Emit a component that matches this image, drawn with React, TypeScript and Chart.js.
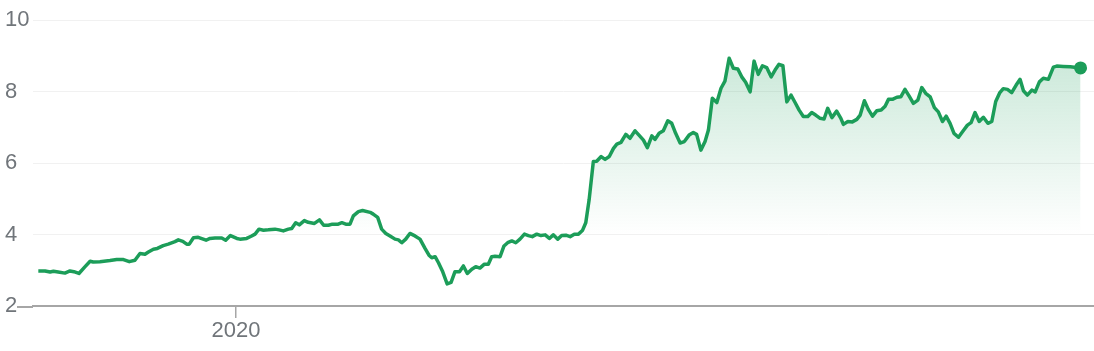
import React, { useEffect, useRef } from "react";
import { Chart, registerables } from "chart.js";

Chart.register(...registerables);

// fractional years (date of each observation)
const dates: number[] = [
  2019.294, 2019.318, 2019.336, 2019.348, 2019.365, 2019.389, 2019.407, 2019.421, 2019.439, 2019.461,
  2019.479, 2019.49, 2019.514, 2019.55, 2019.574, 2019.598, 2019.619, 2019.639, 2019.657, 2019.675,
  2019.687, 2019.705, 2019.719, 2019.74, 2019.758, 2019.782, 2019.794, 2019.81, 2019.824, 2019.833,
  2019.848, 2019.865, 2019.893, 2019.907, 2019.925, 2019.949, 2019.963, 2019.98, 2020.003, 2020.014,
  2020.038, 2020.054, 2020.068, 2020.082, 2020.098, 2020.115, 2020.139, 2020.154, 2020.169, 2020.187,
  2020.199, 2020.213, 2020.226, 2020.244, 2020.258, 2020.28, 2020.298, 2020.313, 2020.33, 2020.344,
  2020.365, 2020.378, 2020.392, 2020.407, 2020.419, 2020.437, 2020.452, 2020.479, 2020.49, 2020.506,
  2020.52, 2020.535, 2020.55, 2020.568, 2020.58, 2020.592, 2020.606, 2020.621, 2020.639, 2020.657,
  2020.675, 2020.689, 2020.699, 2020.711, 2020.723, 2020.737, 2020.754, 2020.768, 2020.782, 2020.798,
  2020.812, 2020.826, 2020.842, 2020.856, 2020.871, 2020.887, 2020.901, 2020.913, 2020.925, 2020.943,
  2020.957, 2020.97, 2020.985, 2020.999, 2021.014, 2021.03, 2021.044, 2021.058, 2021.074, 2021.089,
  2021.104, 2021.119, 2021.133, 2021.149, 2021.163, 2021.178, 2021.193, 2021.208, 2021.223, 2021.237,
  2021.249, 2021.261, 2021.276, 2021.288, 2021.304, 2021.318, 2021.333, 2021.348, 2021.36, 2021.375,
  2021.392, 2021.407, 2021.425, 2021.439, 2021.455, 2021.469, 2021.485, 2021.496, 2021.511, 2021.526,
  2021.542, 2021.556, 2021.57, 2021.586, 2021.601, 2021.618, 2021.633, 2021.645, 2021.66, 2021.675,
  2021.687, 2021.701, 2021.717, 2021.732, 2021.746, 2021.761, 2021.776, 2021.792, 2021.806, 2021.82,
  2021.836, 2021.85, 2021.865, 2021.88, 2021.895, 2021.911, 2021.925, 2021.939, 2021.953, 2021.967,
  2021.982, 2021.996, 2022.011, 2022.026, 2022.042, 2022.056, 2022.07, 2022.086, 2022.1, 2022.113,
  2022.128, 2022.145, 2022.16, 2022.169, 2022.185, 2022.201, 2022.217, 2022.229, 2022.244, 2022.258,
  2022.273, 2022.288, 2022.304, 2022.318, 2022.33, 2022.344, 2022.36, 2022.374, 2022.389, 2022.404,
  2022.419, 2022.435, 2022.449, 2022.463, 2022.479, 2022.494, 2022.508, 2022.523, 2022.536, 2022.55,
  2022.564, 2022.58, 2022.595, 2022.612, 2022.625, 2022.639, 2022.654, 2022.669, 2022.685, 2022.699,
  2022.713, 2022.727, 2022.74, 2022.755, 2022.77, 2022.786, 2022.8, 2022.812, 2022.826, 2022.842,
  2022.854, 2022.869, 2022.883, 2022.901, 2022.919, 2022.931, 2022.954, 2022.979, 2023.016,
];

const prices: number[] = [
  2.98, 2.98, 2.95, 2.97, 2.95, 2.92, 2.98, 2.96, 2.91, 3.1,
  3.25, 3.23, 3.24, 3.27, 3.3, 3.3, 3.24, 3.28, 3.47, 3.45,
  3.51, 3.59, 3.61, 3.69, 3.73, 3.8, 3.85, 3.81, 3.73, 3.73,
  3.91, 3.92, 3.84, 3.89, 3.9, 3.9, 3.84, 3.97, 3.89, 3.87,
  3.89, 3.95, 4.01, 4.15, 4.12, 4.13, 4.15, 4.13, 4.1, 4.15,
  4.17, 4.33, 4.27, 4.39, 4.34, 4.31, 4.41, 4.26, 4.26, 4.29,
  4.29, 4.33, 4.29, 4.29, 4.52, 4.64, 4.67, 4.62, 4.57, 4.48,
  4.15, 4.03, 3.96, 3.87, 3.85, 3.77, 3.87, 4.03, 3.96, 3.87,
  3.61, 3.42, 3.35, 3.38, 3.21, 2.98, 2.62, 2.66, 2.96, 2.96,
  3.12, 2.91, 3.03, 3.1, 3.06, 3.17, 3.17, 3.38, 3.39, 3.38,
  3.68, 3.77, 3.82, 3.77, 3.87, 4.01, 3.97, 3.94, 4.01, 3.97,
  3.99, 3.89, 3.99, 3.87, 3.97, 3.98, 3.94, 4.01, 4.01, 4.11,
  4.33, 4.97, 6.04, 6.05, 6.18, 6.1, 6.18, 6.41, 6.53, 6.58,
  6.8, 6.69, 6.9, 6.78, 6.64, 6.43, 6.76, 6.66, 6.83, 6.9,
  7.18, 7.11, 6.83, 6.56, 6.6, 6.78, 6.85, 6.8, 6.36, 6.6,
  6.92, 7.81, 7.69, 8.09, 8.29, 8.93, 8.65, 8.63, 8.41, 8.26,
  7.99, 8.85, 8.48, 8.72, 8.67, 8.41, 8.6, 8.76, 8.72, 7.71,
  7.9, 7.7, 7.48, 7.3, 7.3, 7.41, 7.34, 7.25, 7.23, 7.53,
  7.27, 7.45, 7.25, 7.08, 7.16, 7.15, 7.22, 7.34, 7.74, 7.5,
  7.31, 7.46, 7.48, 7.59, 7.78, 7.78, 7.84, 7.85, 8.06, 7.87,
  7.67, 7.76, 8.11, 7.95, 7.85, 7.55, 7.43, 7.16, 7.31, 7.11,
  6.83, 6.72, 6.88, 7.06, 7.13, 7.41, 7.16, 7.28, 7.11, 7.16,
  7.72, 7.96, 8.08, 8.06, 7.97, 8.18, 8.34, 8.02, 7.9, 8.04,
  7.99, 8.27, 8.37, 8.34, 8.68, 8.71, 8.7, 8.69, 8.66,
];

const yTicks: number[] = [2, 4, 6, 8, 10];
const xTickYears: number[] = [2020];
const xMin = 2019.275;
const xMax = 2023.064;

const GREEN = "#1c9d59";
const TEXT = "#70757a";
const AXIS = "#a6a6a6";
const GRID = "#f1f1f1";
const FONT = "Arial, 'Liberation Sans', sans-serif";

const baselinePlugin = {
  id: "baselineExtend",
  afterDraw(chart: any) {
    const { ctx, chartArea } = chart;
    ctx.save();
    ctx.strokeStyle = AXIS;
    ctx.lineWidth = 2;
    ctx.beginPath();
    ctx.moveTo(chartArea.left - 16, chartArea.bottom + 1);
    ctx.lineTo(chartArea.left, chartArea.bottom + 1);
    ctx.stroke();
    ctx.restore();
  },
};

export default function App() {
  const canvasRef = useRef<HTMLCanvasElement | null>(null);

  useEffect(() => {
    if (!canvasRef.current) return;
    const points = dates.map((d, i) => ({ x: d, y: prices[i] }));
    const last = points.length - 1;
    const chart = new Chart(canvasRef.current, {
      type: "line",
      data: {
        datasets: [
          {
            data: points,
            borderColor: GREEN,
            borderWidth: 3.5,
            borderJoinStyle: "round",
            tension: 0,
            pointRadius: (c: any) => (c.dataIndex === last ? 6.5 : 0),
            pointHoverRadius: 0,
            pointBackgroundColor: GREEN,
            pointBorderWidth: 0,
            fill: "start",
            backgroundColor: (c: any) => {
              const ch = c.chart;
              const { chartArea, scales } = ch;
              if (!chartArea || !scales.y) return "rgba(0,0,0,0)";
              const g = ch.ctx.createLinearGradient(
                0,
                scales.y.getPixelForValue(10),
                0,
                scales.y.getPixelForValue(4)
              );
              g.addColorStop(0, "rgba(30,158,91,0.28)");
              g.addColorStop(1, "rgba(30,158,91,0)");
              return g;
            },
          },
        ],
      },
      options: {
        animation: false,
        responsive: true,
        maintainAspectRatio: false,
        layout: { autoPadding: false, padding: { left: 5, top: 20, right: 0, bottom: 0 } },
        plugins: { legend: { display: false }, tooltip: { enabled: false } },
        scales: {
          x: {
            type: "linear",
            min: xMin,
            max: xMax,
            afterBuildTicks: (axis: any) => {
              axis.ticks = xTickYears.map((v) => ({ value: v }));
            },
            afterFit: (axis: any) => {
              axis.height = 45;
            },
            ticks: {
              callback: (v: any) => String(v),
              color: TEXT,
              font: { family: FONT, size: 22 },
              padding: 0,
              maxRotation: 0,
              autoSkip: false,
            },
            grid: {
              drawOnChartArea: false,
              drawTicks: true,
              tickLength: 12,
              color: AXIS,
              lineWidth: 1.5,
            },
            border: { display: true, color: AXIS, width: 2 },
          },
          y: {
            min: 2,
            max: 10,
            afterBuildTicks: (axis: any) => {
              axis.ticks = yTicks.map((v) => ({ value: v }));
            },
            afterFit: (axis: any) => {
              axis.width = 28;
            },
            ticks: {
              color: TEXT,
              font: { family: FONT, size: 22 },
              crossAlign: "far",
              padding: 0,
              callback: (v: any) => String(v),
            },
            grid: { color: GRID, lineWidth: 1, drawTicks: false },
            border: { display: false },
          },
        },
      },
      plugins: [baselinePlugin],
    } as any);
    return () => chart.destroy();
  }, []);

  return (
    <div style={{ position: "absolute", left: 0, top: 0, width: 1094, height: 351 }}>
      <canvas ref={canvasRef} />
    </div>
  );
}
